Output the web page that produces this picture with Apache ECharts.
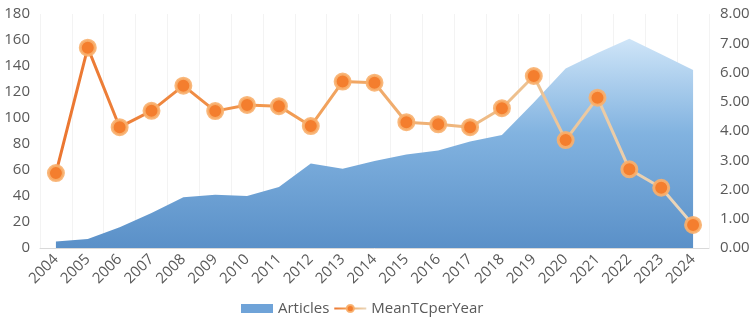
<!DOCTYPE html>
<html>
<head>
<meta charset="utf-8">
<script src="https://cdn.jsdelivr.net/npm/echarts@6/dist/echarts.min.js"></script>
<style>
  html, body { margin: 0; padding: 0; background: #fff; }
  #chart { width: 755px; height: 323px; }
</style>
</head>
<body>
<div id="chart"></div>
<script>
// 年份
const years = ['2004', '2005', '2006', '2007', '2008', '2009', '2010', '2011', '2012', '2013', '2014',
  '2015', '2016', '2017', '2018', '2019', '2020', '2021', '2022', '2023', '2024'];
// 左轴：Articles
const articles = [5, 7, 16, 27, 39, 41, 40, 47, 65, 61, 67, 72, 75, 82, 87, 112, 138, 150, 161, 149, 137];
// 右轴：MeanTCperYear
const meanTC = [2.56, 6.85, 4.13, 4.69, 5.55, 4.68, 4.89, 4.85, 4.17, 5.69, 5.65,
  4.30, 4.23, 4.13, 4.78, 5.88, 3.69, 5.14, 2.69, 2.06, 0.79];

const myChart = echarts.init(document.getElementById('chart'));
const font = '"Open Sans", "Noto Sans", sans-serif';

const option = {
  animation: false,
  grid: { left: 40, right: 46, top: 14, bottom: 75 },
  legend: {
    bottom: 2,
    left: 236,
    itemGap: 4,
    textStyle: { color: '#595959', fontSize: 15, fontFamily: font },
    data: [
      { name: 'Articles', icon: 'rect', itemStyle: { color: '#6FA3D8' } },
      { name: 'MeanTCperYear' }
    ],
    itemWidth: 32,
    itemHeight: 9
  },
  xAxis: {
    type: 'category',
    data: years,
    boundaryGap: true,
    axisLine: { show: true, lineStyle: { color: '#D9D9D9' } },
    axisTick: { show: false },
    axisLabel: {
      color: '#595959', fontSize: 15, fontFamily: font,
      rotate: 45, margin: 9, interval: 0
    },
    splitLine: { show: true, lineStyle: { color: '#F3F3F3' } }
  },
  yAxis: [
    {
      type: 'value',
      min: 0, max: 180, interval: 20,
      axisLine: { show: false },
      axisTick: { show: false },
      splitLine: { show: false },
      axisLabel: { color: '#595959', fontSize: 15, fontFamily: font, margin: 10 }
    },
    {
      type: 'value',
      min: 0, max: 8, interval: 1,
      axisLine: { show: false },
      axisTick: { show: false },
      splitLine: { show: false },
      axisLabel: {
        color: '#595959', fontSize: 15, fontFamily: font, margin: 11,
        formatter: v => v.toFixed(2)
      }
    }
  ],
  series: [
    {
      name: 'Articles',
      type: 'line',
      yAxisIndex: 0,
      data: articles,
      symbol: 'none',
      lineStyle: { width: 0 },
      areaStyle: {
        opacity: 1,
        color: new echarts.graphic.LinearGradient(0, 0, 0, 1, [
          { offset: 0, color: '#CFE5F8' },
          { offset: 0.45, color: '#82B3E0' },
          { offset: 1, color: '#5A90C8' }
        ])
      },
      itemStyle: { color: '#6FA3D8' },
      z: 1
    },
    {
      name: 'MeanTCperYear',
      type: 'line',
      yAxisIndex: 1,
      data: meanTC,
      symbol: 'circle',
      symbolSize: 15,
      lineStyle: {
        width: 3,
        color: new echarts.graphic.LinearGradient(0, 0, 1, 0, [
          { offset: 0, color: '#EB7530' },
          { offset: 0.35, color: '#F29A50' },
          { offset: 0.7, color: '#EEBE8A' },
          { offset: 1, color: '#E9D7BE' }
        ])
      },
      itemStyle: {
        color: '#F47E2E',
        borderColor: 'rgba(248,176,110,0.9)',
        borderWidth: 3
      },
      z: 3
    }
  ]
};

myChart.setOption(option);
</script>
</body>
</html>
